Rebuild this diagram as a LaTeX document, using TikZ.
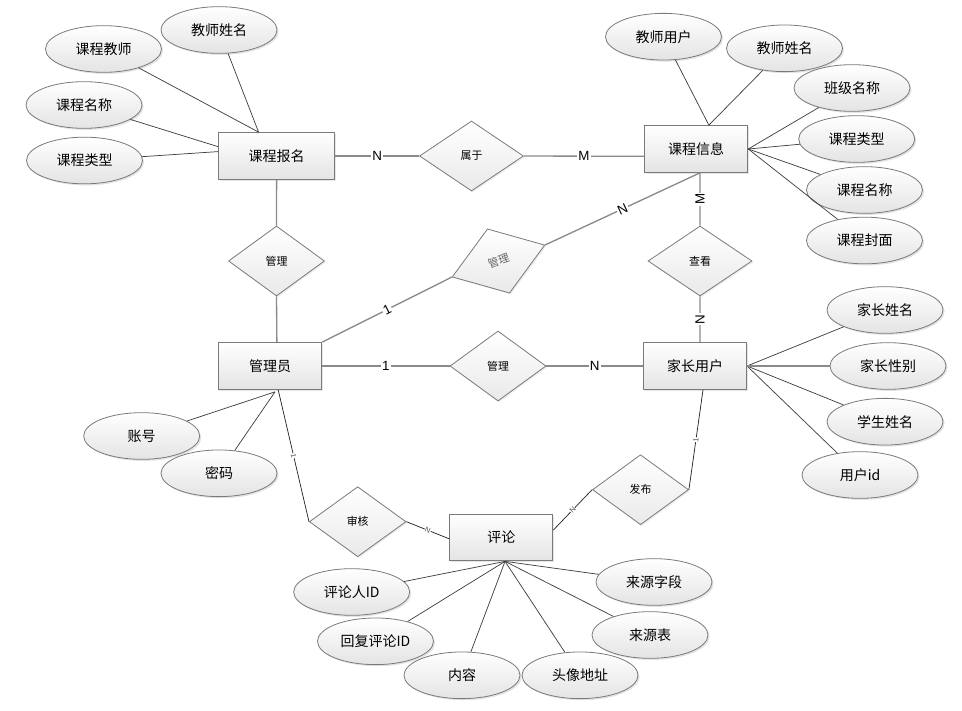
\documentclass[tikz,border=0pt]{standalone}
\usepackage{fontspec}
\setmainfont{Noto Sans CJK SC}
\newfontfamily\latinfont{Liberation Sans}
\usetikzlibrary{shapes.geometric,shadows}
\definecolor{edgegray}{HTML}{7A7A7A}
\definecolor{linegray}{HTML}{8A8A8A}
\definecolor{shadeend}{HTML}{E4E4E4}
\begin{document}
\begin{tikzpicture}[x=0.75pt,y=-0.75pt,
  entity/.style={rectangle, draw=edgegray, line width=0.8pt, top color=white, bottom color=shadeend,
    minimum width=77.25pt, minimum height=35pt, inner sep=0pt, font=\fontsize{10.5}{12}\selectfont,
    drop shadow={shadow xshift=1pt, shadow yshift=-1pt, opacity=0.2}},
  attr/.style={ellipse, draw=edgegray, line width=0.6pt, top color=white, bottom color=shadeend,
    minimum width=87pt, minimum height=35pt, inner sep=0pt, font=\fontsize{10.5}{12}\selectfont,
    drop shadow={shadow xshift=1.2pt, shadow yshift=-1.2pt, opacity=0.22}},
  rel/.style={diamond, draw=edgegray, line width=0.6pt, top color=white, bottom color=shadeend!80,
    minimum width=75pt, minimum height=52.5pt, inner sep=0pt, font=\fontsize{8.2}{9}\selectfont,
    drop shadow={shadow xshift=1pt, shadow yshift=-1pt, opacity=0.15}},
  mainline/.style={draw=linegray, line width=1pt},
  attrline/.style={draw=black!75, line width=0.55pt},
  thinline/.style={draw=black!85, line width=0.55pt},
  lab/.style={fill=white, inner sep=0.8pt, font=\latinfont\fontsize{10}{11}\selectfont},
  tinylab/.style={fill=white, inner sep=0.3pt, text=black!70, font=\latinfont\fontsize{5.5}{6}\selectfont, sloped}
]
\useasboundingbox (0,0) rectangle (962,710);

% entities
\node[entity, minimum width=87pt] (kcbm) at (276.6,156) {课程报名};
\node[entity] (kcxx) at (696.2,149) {课程信息};
\node[entity] (gly) at (270.2,366) {管理员};
\node[entity] (jzyh) at (695,366) {家长用户};
\node[entity] (pl) at (501.3,537.5) {评论};

% relations
\node[rel, minimum width=78pt] (sy) at (471.5,156) {属于};
\node[rel, minimum width=72pt] (gl1) at (276.5,261) {管理};
\node[rel, minimum width=78pt] (ck) at (700,261) {查看};
\node[rel, minimum width=72pt] (gl2) at (498,366) {管理};
\node[rel, minimum width=73.5pt, minimum height=51pt, rotate=19, text=black!60] (gl3) at (498.5,261) {管理};
\node[rel, minimum width=72.5pt] (sh) at (357.7,521.7) {审核};
\node[rel, minimum width=72pt] (fb) at (640.5,489.7) {发布};

% attributes of 课程报名
\node[attr] (a1) at (219,30) {教师姓名};
\node[attr] (a2) at (103.5,49) {课程教师};
\node[attr] (a3) at (84,105) {课程名称};
\node[attr] (a4) at (84.5,160.5) {课程类型};
% attributes of 课程信息
\node[attr] (b1) at (663.5,36.7) {教师用户};
\node[attr] (b2) at (784.5,48.3) {教师姓名};
\node[attr] (b3) at (852,88) {班级名称};
\node[attr] (b4) at (856.7,139) {课程类型};
\node[attr] (b5) at (864.5,190) {课程名称};
\node[attr] (b6) at (864.5,240.5) {课程封面};
% attributes of 家长用户
\node[attr] (c1) at (885,310) {家长姓名};
\node[attr] (c2) at (888,366) {家长性别};
\node[attr] (c3) at (885,421.7) {学生姓名};
\node[attr] (c4) at (860,475) {用户id};
% attributes of 管理员
\node[attr] (d1) at (141.7,436) {账号};
\node[attr] (d2) at (219,473.3) {密码};
% attributes of 评论
\node[attr] (e1) at (351.7,592) {评论人ID};
\node[attr] (e2) at (375.5,641.3) {回复评论ID};
\node[attr] (e3) at (462,675.3) {内容};
\node[attr] (e4) at (580,675.3) {头像地址};
\node[attr] (e5) at (650,635) {来源表};
\node[attr] (e6) at (654,582) {来源字段};

% coordinates on entities where lines meet
\coordinate (kcbmtop) at ([xshift=-13.5pt]kcbm.north);
\coordinate (kcxxtop) at ([xshift=9.5pt]kcxx.north);
\coordinate (kcxxbot) at ([xshift=2.8pt]kcxx.south);
\coordinate (jzyhbot) at ([xshift=6pt]jzyh.south);
\coordinate (glybot) at ([xshift=6pt]gly.south);
\coordinate (glyattr) at ([xshift=3.6pt, yshift=-1.5pt]gly.south);
\coordinate (glbot) at ([xshift=5pt]gly.north);
\coordinate (plbot) at ([xshift=2.8pt]pl.south);

% attribute lines
\draw[attrline] (a1) -- (kcbmtop);
\draw[attrline] (a2) -- (kcbmtop);
\draw[attrline] (a3) -- ([yshift=7pt]kcbm.west);
\draw[attrline] (a4) -- ([yshift=3.3pt]kcbm.west);
\draw[attrline] (b1) -- (kcxxtop);
\draw[attrline] (b2) -- (kcxxtop);
\foreach \b in {b3,b4,b5,b6} \draw[attrline] (\b) -- (kcxx.east);
\foreach \c in {c1,c3,c4} \draw[attrline] (\c) -- (jzyh.east);
\draw[mainline] (c2) -- (jzyh.east);
\draw[attrline] (d1) -- (glyattr);
\draw[attrline] (d2) -- (glyattr);
\foreach \e in {e1,e2,e3,e4,e5,e6} \draw[attrline] (\e) -- (plbot);

% relationship lines
\draw[mainline] (kcbm.east) -- node[lab] {N} (sy.west);
\draw[mainline] (sy.east) -- node[lab] {M} ([yshift=-5.5pt]kcxx.west);
\draw[mainline] (kcbm.south) -- (gl1.north);
\draw[mainline] (gl1.south) -- (glbot);
\draw[mainline] (kcxxbot) -- node[lab, rotate=90] {M} (ck.north);
\draw[mainline] (ck.south) -- node[lab, rotate=90] {N} ([xshift=3.7pt]jzyh.north);
\draw[mainline] (gly.east) -- node[lab] {1} (gl2.west);
\draw[mainline] (gl2.east) -- node[lab] {N} (jzyh.west);
\draw[mainline] (gly.north east) -- node[lab, sloped] {1} (gl3.west);
\draw[mainline] (gl3.east) -- node[lab, sloped] {N} (kcxxbot);

\draw[thinline] (glybot) -- node[tinylab] {1} (sh.west);
\draw[thinline] (sh.east) -- node[tinylab] {N} ([yshift=-1pt]pl.west);
\draw[thinline] (jzyhbot) -- node[tinylab] {1} (fb.east);
\draw[thinline] (fb.west) -- node[tinylab] {N} ([yshift=5.6pt]pl.east);
\end{tikzpicture}
\end{document}
